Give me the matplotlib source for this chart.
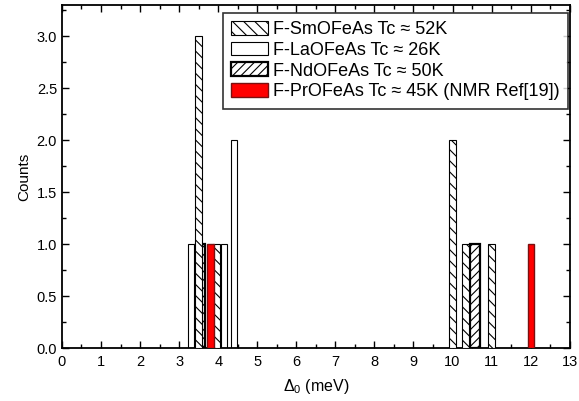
import matplotlib
matplotlib.use("Agg")
import matplotlib.pyplot as plt
from matplotlib.ticker import MultipleLocator

plt.rcParams['font.family'] = ['Liberation Sans', 'DejaVu Sans']
plt.rcParams['mathtext.fontset'] = 'custom'
plt.rcParams['mathtext.rm'] = 'Liberation Sans'
plt.rcParams['hatch.linewidth'] = 0.8

# Data
sm_x = [3.5, 3.95, 10.0, 10.33, 11.0]
sm_y = [3, 1, 2, 1, 1]
la_x = [3.3, 4.15, 4.4]
la_y = [1, 1, 2]
nd_x = [3.55, 10.58]
nd_y = [1, 1]
pr_x = [3.8, 12.0]
pr_y = [1, 1]

labels = ["F-SmOFeAs Tc \u2248 52K",
          "F-LaOFeAs Tc \u2248 26K",
          "F-NdOFeAs Tc \u2248 50K",
          "F-PrOFeAs Tc \u2248 45K (NMR Ref[19])"]

fig = plt.figure(figsize=(5.79, 4.01), dpi=100)
ax = fig.add_axes([0.107, 0.132, 0.877, 0.855])

b_la = ax.bar(la_x, la_y, width=0.15, facecolor='white', edgecolor='black', linewidth=0.8, zorder=2)
b_nd = ax.bar(nd_x, nd_y, width=0.25, facecolor='white', edgecolor='black', linewidth=1.6, hatch='////', zorder=2)
b_sm = ax.bar(sm_x, sm_y, width=0.18, facecolor='white', edgecolor='black', linewidth=0.8, hatch='\\\\\\', zorder=3)
b_pr = ax.bar(pr_x, pr_y, width=0.16, facecolor='red', edgecolor='#7a1010', linewidth=1.0, zorder=4)

ax.set_xlim(0, 13)
ax.set_ylim(0, 3.3)
ax.xaxis.set_major_locator(MultipleLocator(1))
ax.xaxis.set_minor_locator(MultipleLocator(0.5))
ax.yaxis.set_major_locator(MultipleLocator(0.5))
ax.yaxis.set_minor_locator(MultipleLocator(0.25))
ax.yaxis.set_major_formatter(matplotlib.ticker.FormatStrFormatter('%.1f'))
ax.tick_params(which='both', direction='in', top=True, right=True, labelsize=10.5, width=1.0)
ax.tick_params(axis='x', which='major', pad=5)
ax.tick_params(which='major', length=5)
ax.tick_params(which='minor', length=3)
for s in ax.spines.values():
    s.set_linewidth(1.3)

ax.set_xlabel(r'$\mathregular{\Delta_0}$ (meV)', fontsize=11.5, labelpad=6)
ax.set_ylabel('Counts', fontsize=11)

leg = ax.legend([b_sm, b_la, b_nd, b_pr], labels, loc='upper right',
                fontsize=13, frameon=True, fancybox=False, edgecolor='black',
                handlelength=2.0, handleheight=0.8, borderpad=0.45, labelspacing=0.2,
                handletextpad=0.3, borderaxespad=0, bbox_to_anchor=(0.996, 0.978))
leg.get_frame().set_linewidth(1.2)

fig.savefig('out.png', dpi=100)
